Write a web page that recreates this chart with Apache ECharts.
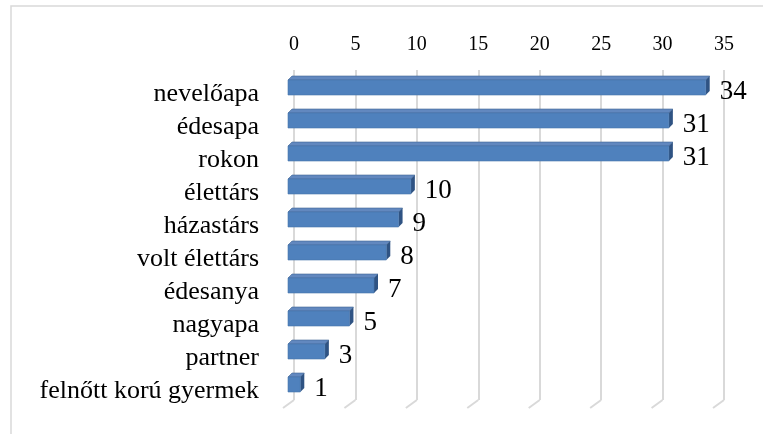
<!DOCTYPE html>
<html>
<head>
<meta charset="utf-8">
<script src="https://cdn.jsdelivr.net/npm/echarts@6/dist/echarts.min.js"></script>
<style>
  html, body { margin: 0; padding: 0; background: #fff; }
  #main { width: 763px; height: 434px; }
</style>
</head>
<body>
<div id="main"></div>
<script>
  // kategóriák felülről lefelé
  var categories = ['nevelőapa', 'édesapa', 'rokon', 'élettárs', 'házastárs', 'volt élettárs', 'édesanya', 'nagyapa', 'partner', 'felnőtt korú gyermek'];
  var values = [34, 31, 31, 10, 9, 8, 7, 5, 3, 1];
  var tickValues = [0, 5, 10, 15, 20, 25, 30, 35];

  var serif = 'Liberation Serif';
  var myChart = echarts.init(document.getElementById('main'));

  // 3D-s oszlop: elülső lap + teteje + oldala
  function renderBar(params, api) {
    var cat = api.value(0);
    var val = api.value(1);
    var start = api.coord([0, cat]);
    var end = api.coord([val, cat]);
    var dx = -6, h = 15, d = 4;
    var x0 = start[0] + dx, x1 = end[0] + dx;
    var y0 = start[1] - h / 2 + 1, y1 = y0 + h;
    return {
      type: 'group',
      children: [
        { type: 'polygon', shape: { points: [[x0, y0], [x0 + d, y0 - d], [x1 + d, y0 - d], [x1, y0]] },
          style: { fill: '#6288bf', stroke: '#3f6696', lineWidth: 0.6 } },
        { type: 'polygon', shape: { points: [[x1, y0], [x1 + d, y0 - d], [x1 + d, y1 - d], [x1, y1]] },
          style: { fill: '#2f5383' } },
        { type: 'rect', shape: { x: x0, y: y0, width: x1 - x0, height: h },
          style: { fill: '#4f81bd', stroke: '#4675ad', lineWidth: 0.6 } },
        { type: 'text', style: { x: x1 + d + 10, y: (y0 + y1) / 2 + 4, text: String(val), fill: '#000',
          fontSize: 27, fontFamily: serif, verticalAlign: 'middle', align: 'left' } }
      ]
    };
  }

  // a padló ferde vonalai a rácsvonalak alján
  function renderFloor(params, api) {
    var v = api.value(0);
    var p = api.coord([v, categories[categories.length - 1]]);
    var bottom = params.coordSys.y + params.coordSys.height;
    return {
      type: 'line',
      shape: { x1: p[0], y1: bottom, x2: p[0] - 11, y2: bottom + 8 },
      style: { stroke: '#d9d9d9', lineWidth: 2 }
    };
  }

  myChart.setOption({
    animation: false,
    textStyle: { fontFamily: serif },
    graphic: [{
      type: 'rect',
      shape: { x: 11, y: 6, width: 800, height: 500 },
      style: { fill: 'none', stroke: '#d9d9d9', lineWidth: 1.5 },
      silent: true
    }],
    grid: { left: 294, right: 39, top: 70, bottom: 34 },
    xAxis: {
      type: 'value',
      position: 'top',
      min: 0,
      max: 35,
      interval: 5,
      axisLine: { show: false },
      axisTick: { show: false },
      axisLabel: { color: '#000', fontSize: 20, fontFamily: serif, margin: 15 },
      splitLine: { lineStyle: { color: '#d9d9d9', width: 2 } }
    },
    yAxis: {
      type: 'category',
      inverse: true,
      data: categories,
      axisLine: { show: false },
      axisTick: { show: false },
      axisLabel: {
        interval: 0,
        margin: 35,
        formatter: '{v|{value}}',
        rich: { v: { color: '#000', fontSize: 26, fontFamily: serif, padding: [15, 0, 0, 0] } }
      }
    },
    series: [
      {
        type: 'custom',
        renderItem: renderFloor,
        data: tickValues.map(function (v) { return [v]; }),
        encode: { x: 0 },
        silent: true
      },
      {
        type: 'custom',
        renderItem: renderBar,
        data: categories.map(function (c, i) { return [c, values[i]]; }),
        encode: { y: 0, x: 1 },
        silent: true
      }
    ]
  });
</script>
</body>
</html>
